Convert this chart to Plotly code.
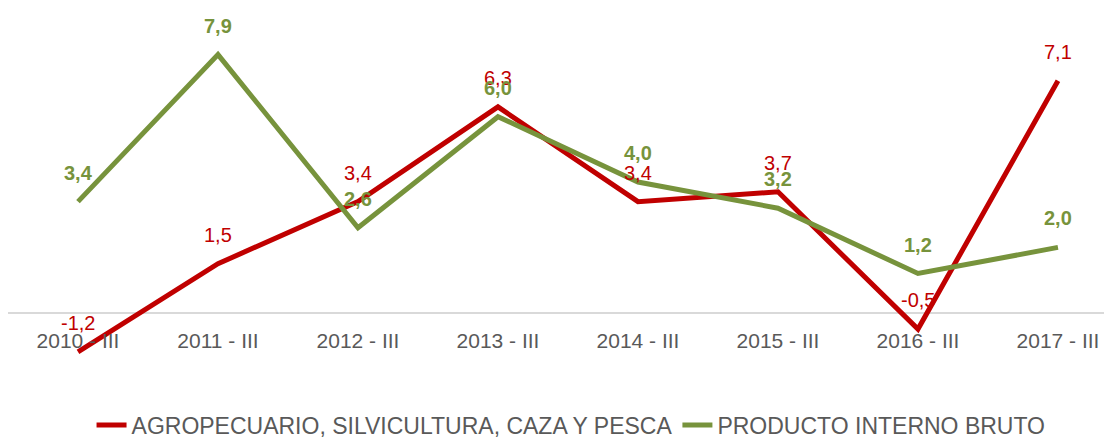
import plotly.graph_objects as go

categories = ["2010 - III", "2011 - III", "2012 - III", "2013 - III",
              "2014 - III", "2015 - III", "2016 - III", "2017 - III"]
agro = [-1.2, 1.5, 3.4, 6.3, 3.4, 3.7, -0.5, 7.1]
pib = [3.4, 7.9, 2.6, 6.0, 4.0, 3.2, 1.2, 2.0]
name_agro = "AGROPECUARIO, SILVICULTURA, CAZA Y PESCA"
name_pib = "PRODUCTO INTERNO BRUTO"

RED = "#C00000"
GREEN = "#77933C"
FONT = "Arial, Liberation Sans, sans-serif"

def fmt(v):
    return f"{v:.1f}".replace(".", ",")

fig = go.Figure()
fig.add_trace(go.Scatter(x=categories, y=agro, mode="lines", name=name_agro,
                         line=dict(color=RED, width=5), hoverinfo="skip"))
fig.add_trace(go.Scatter(x=categories, y=pib, mode="lines", name=name_pib,
                         line=dict(color=GREEN, width=5), hoverinfo="skip"))

annotations = []
for c, v in zip(categories, agro):
    annotations.append(dict(x=c, y=v, xref="x", yref="y", text=fmt(v), showarrow=False,
                            yanchor="middle", yshift=29,
                            font=dict(family=FONT, size=20, color=RED)))
for c, v in zip(categories, pib):
    annotations.append(dict(x=c, y=v, xref="x", yref="y", text="<b>" + fmt(v) + "</b>",
                            showarrow=False, yanchor="middle", yshift=29,
                            font=dict(family=FONT, size=20, color=GREEN)))

ymin, ymax = -1.6, 8.5
fig.update_layout(
    width=1104, height=432,
    margin=dict(l=0, r=0, t=27, b=75, autoexpand=False),
    paper_bgcolor="white", plot_bgcolor="white",
    font=dict(family=FONT, color="#595959"),
    showlegend=True,
    legend=dict(orientation="h", x=0.51, xanchor="center",
                yref="paper", y=-0.117, yanchor="top",
                font=dict(family=FONT, size=23, color="#595959"),
                bgcolor="rgba(0,0,0,0)"),
    annotations=annotations,
    xaxis=dict(type="category", range=[-0.5, 7.386], showgrid=False, zeroline=False,
               showline=False, ticks="", anchor="free", automargin=False,
               position=(0 - ymin) / (ymax - ymin),
               ticklabelstandoff=13,
               tickfont=dict(family=FONT, size=21, color="#595959")),
    yaxis=dict(range=[ymin, ymax], showgrid=False, showticklabels=False, ticks="",
               automargin=False,
               zeroline=True, zerolinecolor="#D9D9D9", zerolinewidth=2, showline=False),
)

fig.write_html("out.html")
